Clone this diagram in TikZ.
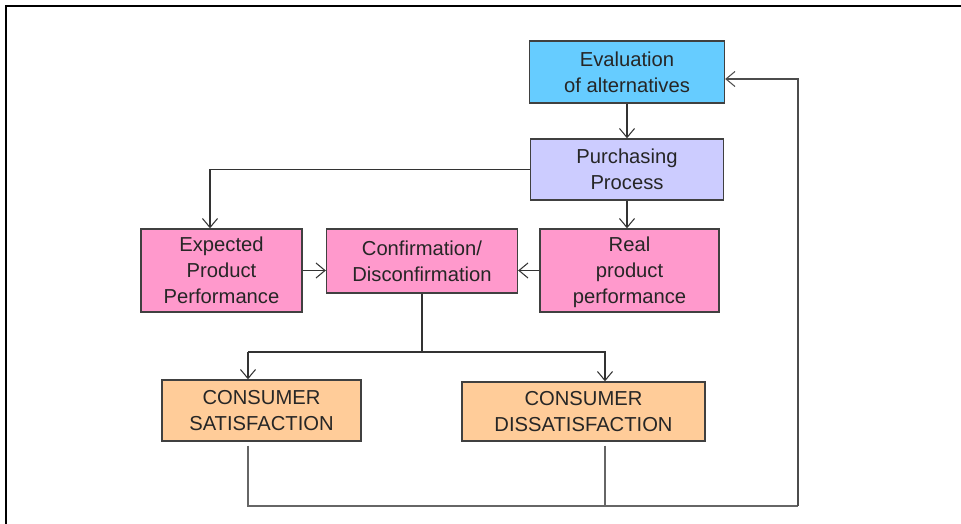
\documentclass[tikz,border=0pt]{standalone}
\usepackage{fontspec}
\setmainfont{Liberation Sans}
\usepackage{tikz}
\usetikzlibrary{arrows.meta}

\definecolor{evalblue}{HTML}{66CCFF}
\definecolor{purchlilac}{HTML}{CCCCFF}
\definecolor{perfpink}{HTML}{FF99CC}
\definecolor{outcomeorange}{HTML}{FFCC99}

\begin{document}
\begin{tikzpicture}[x=0.02cm,y=-0.02cm,
    box/.style={draw=black!75, line width=0.8pt, align=center, inner sep=0pt,
      text=black!85, font=\fontsize{11.5}{14.7}\selectfont},
    arr/.style={draw=black!80, line width=0.6pt,
      -{Straight Barb[length=1.8mm,width=3mm]}},
    link/.style={draw=black!60, line width=0.7pt}]
  \useasboundingbox (0,0) rectangle (961,524);
  \draw[line width=1.1pt] (961,6) -- (6,6) -- (6,524);

  \node[box, fill=evalblue, minimum width=3.9cm, minimum height=1.24cm] (eval) at (627,72) {Evaluation\\of alternatives};
  \node[box, fill=purchlilac, minimum width=3.86cm, minimum height=1.22cm] (purch) at (627,169.5) {Purchasing\\Process};

  \node[box, fill=perfpink, minimum width=3.22cm, minimum height=1.66cm] (expct) at (221.5,270.5) {Expected\\Product\\Performance};
  \node[box, fill=perfpink, minimum width=3.82cm, minimum height=1.28cm] (confirm) at (422,261) {Confirmation/\\Disconfirmation};
  \node[box, fill=perfpink, minimum width=3.58cm, minimum height=1.66cm, text depth=-0.1cm] (real) at (629.5,270.5) {Real\\product\\performance};

  \node[box, fill=outcomeorange, minimum width=3.98cm, minimum height=1.22cm] (satis) at (261.5,410.5) {CONSUMER\\SATISFACTION};
  \node[box, fill=outcomeorange, minimum width=4.86cm, minimum height=1.18cm] (dissat) at (583.5,411.5) {CONSUMER\\DISSATISFACTION};

  \coordinate (fork) at (0,352);
  \coordinate (loop) at (798,506);
  \coordinate (stop) at ([xshift=-0.27cm]satis.north);
  \coordinate (dtop) at ([xshift=0.43cm]dissat.north);
  \coordinate (sbot) at ([xshift=-0.27cm,yshift=-0.08cm]satis.south);
  \coordinate (dbot) at ([xshift=0.43cm,yshift=-0.08cm]dissat.south);

  \draw[arr] (eval) -- (purch);
  \draw[arr] (purch.west) -| ([xshift=-0.23cm]expct.north);
  \draw[arr] (purch.south) -- (purch.south |- real.north);
  \draw[arr] (expct.east) -- (expct.east -| confirm.west);
  \draw[arr] (real.west) -- (real.west -| confirm.east);

  \draw[draw=black!80, line width=0.6pt] (confirm.south) -- (confirm.south |- fork);
  \draw[arr] (stop |- fork) -- (dtop |- fork) -- (dtop);
  \draw[arr] (stop |- fork) -- (stop);

  \draw[link] (sbot) |- (loop);
  \draw[link] (dbot) -- (dbot |- loop);
  \draw[arr, draw=black!70] (loop) |- ([yshift=-0.14cm]eval.east);
\end{tikzpicture}
\end{document}
